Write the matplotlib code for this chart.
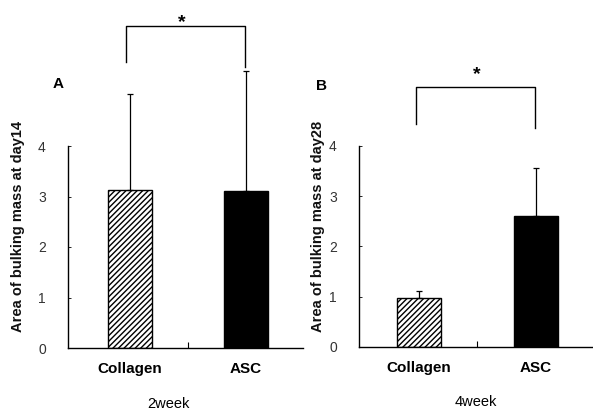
import matplotlib
matplotlib.use("Agg")
import matplotlib.pyplot as plt

plt.rcParams['font.family'] = ['Liberation Sans', 'DejaVu Sans']
plt.rcParams['hatch.linewidth'] = 1.0

categories = ["Collagen", "ASC"]
day14_mean = [3.13, 3.11]
day14_err = [1.90, 2.37]
day28_mean = [0.98, 2.61]
day28_err = [0.13, 0.95]
yticks = [0, 1, 2, 3, 4]

W, H = 593, 413
fig = plt.figure(figsize=(W / 100, H / 100), dpi=100)


def px_axes(left, right, bottom, top):
    return fig.add_axes([left / W, 1 - bottom / H, (right - left) / W, (bottom - top) / H])


def panel(ax, means, errs, xlim, bracket, star, letter, ylabel, week):
    x = [0, 1]
    ax.bar(x[0], means[0], width=0.38, color="white", edgecolor="black",
           hatch="//////", linewidth=1.0, zorder=2)
    ax.bar(x[1], means[1], width=0.38, color="black", edgecolor="black",
           linewidth=1.0, zorder=2)
    ax.errorbar(x, means, yerr=[[0, 0], errs], fmt="none", ecolor="black",
                elinewidth=0.9, capsize=2, capthick=0.9, clip_on=False, zorder=3)
    ax.set_xlim(*xlim)
    ax.set_ylim(0, 4)
    ax.spines["top"].set_visible(False)
    ax.spines["right"].set_visible(False)
    ax.spines["left"].set_linewidth(1.0)
    ax.spines["bottom"].set_linewidth(1.0)
    ax.spines["bottom"].set_bounds(xlim[0], xlim[1])
    ax.set_yticks(yticks)
    ax.set_yticklabels([str(t) for t in yticks], fontsize=10, color="#333333")
    ax.tick_params(axis="y", direction="in", length=2, width=0.6, pad=16)
    ax.set_xticks([0.5])
    ax.set_xticklabels([""])
    ax.tick_params(axis="x", which="major", direction="in", length=4, width=0.8)
    ax.set_xticks(x, minor=True)
    ax.set_xticklabels(categories, minor=True, fontsize=11, fontweight="bold")
    ax.tick_params(axis="x", which="minor", length=0, pad=10)
    (bx0, bx1, btop, bl, br) = bracket
    ax.plot([bx0, bx0, bx1, bx1], [bl, btop, btop, br], color="black",
            linewidth=1.0, clip_on=False)
    ax.text(star[0], star[1], "*", ha="center", va="center", fontsize=14,
            fontweight="bold", clip_on=False)
    fig.text(letter[0] / W, 1 - letter[1] / H, letter[2], ha="center", va="center",
             fontsize=11, fontweight="bold")
    fig.text(ylabel[0] / W, 1 - ylabel[1] / H, ylabel[2], ha="center", va="center",
             rotation=90, fontsize=10.5, fontweight="bold", color="#111111")
    fig.text(week[0] / W, 1 - week[1] / H, week[2], ha="center", va="center",
             fontsize=10.5)


axA = px_axes(68, 303, 348, 146)
panel(axA, day14_mean, day14_err, (-0.53, 1.49),
      (-0.03, 0.99, 6.38, 5.66, 5.56), (0.45, 6.45),
      (58, 84, "A"), (18, 226, "Area of bulking mass at day14"), (168, 404, "2week"))

axB = px_axes(359, 593, 347, 146)
panel(axB, day28_mean, day28_err, (-0.515, 1.49),
      (-0.03, 0.99, 5.17, 4.44, 4.36), (0.49, 5.42),
      (321, 86, "B"), (318, 226, "Area of bulking mass at day28"), (476, 402, "4week"))

fig.savefig("out.png", dpi=100)
